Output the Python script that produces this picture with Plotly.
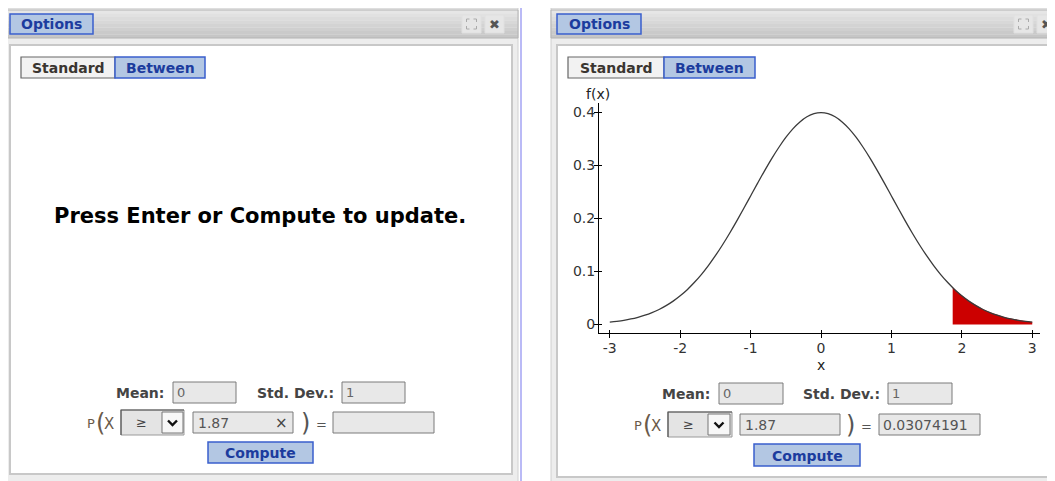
import plotly.graph_objects as go

# ---------------- data ----------------
x_grid = [-3.0, -2.9, -2.8, -2.7, -2.6, -2.5, -2.4, -2.3, -2.2, -2.1,
          -2.0, -1.9, -1.8, -1.7, -1.6, -1.5, -1.4, -1.3, -1.2, -1.1,
          -1.0, -0.9, -0.8, -0.7, -0.6, -0.5, -0.4, -0.3, -0.2, -0.1,
          0.0, 0.1, 0.2, 0.3, 0.4, 0.5, 0.6, 0.7, 0.8, 0.9,
          1.0, 1.1, 1.2, 1.3, 1.4, 1.5, 1.6, 1.7, 1.8, 1.9,
          2.0, 2.1, 2.2, 2.3, 2.4, 2.5, 2.6, 2.7, 2.8, 2.9, 3.0]
density = [0.0044, 0.0060, 0.0079, 0.0104, 0.0136, 0.0175, 0.0224, 0.0283, 0.0355, 0.0440,
           0.0540, 0.0656, 0.0790, 0.0940, 0.1109, 0.1295, 0.1497, 0.1714, 0.1942, 0.2179,
           0.2420, 0.2661, 0.2897, 0.3123, 0.3332, 0.3521, 0.3683, 0.3814, 0.3910, 0.3970,
           0.3989, 0.3970, 0.3910, 0.3814, 0.3683, 0.3521, 0.3332, 0.3123, 0.2897, 0.2661,
           0.2420, 0.2179, 0.1942, 0.1714, 0.1497, 0.1295, 0.1109, 0.0940, 0.0790, 0.0656,
           0.0540, 0.0440, 0.0355, 0.0283, 0.0224, 0.0175, 0.0136, 0.0104, 0.0079, 0.0060, 0.0044]
tail_x = [1.87, 1.9, 2.0, 2.1, 2.2, 2.3, 2.4, 2.5, 2.6, 2.7, 2.8, 2.9, 3.0]
tail_y = [0.0694, 0.0656, 0.0540, 0.0440, 0.0355, 0.0283, 0.0224, 0.0175, 0.0136,
          0.0104, 0.0079, 0.0060, 0.0044]
x_ticks = [-3, -2, -1, 0, 1, 2, 3]
x_tick_labels = ["-3", "-2", "-1", "0", "1", "2", "3"]
y_ticks = [0, 0.1, 0.2, 0.3, 0.4]
y_tick_labels = ["0", "0.1", "0.2", "0.3", "0.4"]
mean_value = "0"
sd_value = "1"
operator = "≥"
threshold = "1.87"
result_value = "0.03074191"

# ---------------- helpers ----------------
# the page body has an 8px margin, so the figure starts at window pixel (8, 8)
OFF = 8
W, H = 1055 - OFF, 481 - OFF
FONT = "DejaVu Sans"
shapes = []
annotations = []


def px(x):
    return (x - OFF) / W


def py(y):
    return 1 - (y - OFF) / H


def rect(x0, y0, x1, y1, fill, line=None, lw=1, layer="below"):
    shapes.append(dict(type="rect", xref="paper", yref="paper",
                       x0=px(x0), x1=px(x1), y0=py(y1), y1=py(y0),
                       fillcolor=fill,
                       line=dict(color=line if line else "rgba(0,0,0,0)",
                                 width=lw if line else 0),
                       layer=layer))


def path(points, color, lw=1.5):
    d = "M " + " L ".join(f"{px(a):.5f},{py(b):.5f}" for a, b in points)
    shapes.append(dict(type="path", xref="paper", yref="paper", path=d,
                       line=dict(color=color, width=lw), layer="above"))


def text(x, y, s, size=14, color="#333", bold=False, xanchor="center",
         family=FONT):
    annotations.append(dict(x=px(x), y=py(y), xref="paper", yref="paper",
                            text=(f"<b>{s}</b>" if bold else s),
                            showarrow=False, xanchor=xanchor, yanchor="middle",
                            font=dict(family=family, size=size, color=color)))


BTN_FILL = "#b3c7e3"
BTN_LINE = "#3a5fcd"
BTN_TEXT = "#1c3c9e"
BOX_FILL = "#e8e8e8"
BOX_LINE = "#7a7a7a"
LBL = "#444444"
PX_COL = "#6a5a4a"


def header(x0, x1):
    top, bot = 10, 38
    n = 8
    c0, c1 = (230, 230, 230), (198, 198, 198)
    for i in range(n):
        t = i / (n - 1)
        c = tuple(int(c0[k] + (c1[k] - c0[k]) * t) for k in range(3))
        ya = top + (bot - top) * i / n
        yb = top + (bot - top) * (i + 1) / n
        rect(x0, ya, x1, yb, "rgb(%d,%d,%d)" % c)
    rect(x0, top, x1, bot, "rgba(0,0,0,0)", line="#b4b4b4", lw=1)


def window(x0, x1, body_x0, body_x1, body_y1, icons_x):
    rect(x0, 8, x1, 485, "#ededed", line="#d0d0d0", lw=1)
    header(x0, x1)
    rect(body_x0, 45, body_x1, body_y1, "#ffffff", line="#c8c8c8", lw=2)
    # icons
    ex = icons_x
    rect(ex, 15, ex + 19, 33, "#e6e6e6", line="#e0e0e0", lw=1)
    cx, cy = ex + 9.5, 24
    for sx in (-1, 1):
        for sy in (-1, 1):
            path([(cx + sx * 2, cy + sy * 5), (cx + sx * 5, cy + sy * 5),
                  (cx + sx * 5, cy + sy * 2)], "#aaaaaa", 1)
    rect(ex + 23, 15, ex + 42, 33, "#e6e6e6", line="#e0e0e0", lw=1)
    text(ex + 32.5, 24.5, "✖", size=13, color="#555555")


def ui_block(opts, std_btn, btw_btn, mean_lbl_r, mean_box, sd_lbl_r,
             sd_box, p_x, sel_box, drop_box, inp_box, has_x, close_paren_x,
             eq_x, res_box, res_text, comp_box):
    # Options button
    rect(*opts, BTN_FILL, line=BTN_LINE, lw=1.5)
    text((opts[0] + opts[2]) / 2, 24.5, "Options", 14, BTN_TEXT, True)
    # Standard / Between
    rect(*std_btn, "#f2f2f2", line="#666666", lw=1.2)
    text((std_btn[0] + std_btn[2]) / 2, 68, "Standard", 14, "#3a3530", True)
    rect(*btw_btn, BTN_FILL, line=BTN_LINE, lw=1.5)
    text((btw_btn[0] + btw_btn[2]) / 2, 68, "Between", 14, BTN_TEXT, True)
    # Mean / Std
    ym = (mean_box[1] + mean_box[3]) / 2
    text(mean_lbl_r, ym + 0.5, "Mean:", 14, LBL, True, "right")
    rect(*mean_box, BOX_FILL, line=BOX_LINE, lw=1)
    text(mean_box[0] + 2, ym, mean_value, 13, "#666666", False, "left")
    text(sd_lbl_r, ym + 0.5, "Std. Dev.:", 14, LBL, True, "right")
    rect(*sd_box, BOX_FILL, line=BOX_LINE, lw=1)
    text(sd_box[0] + 2, ym, sd_value, 13, "#666666", False, "left")
    # P( X
    yr = (inp_box[1] + inp_box[3]) / 2
    text(p_x, yr + 1, "P", 13, PX_COL, False, "left")
    text(p_x + 9, yr, "(", 24, PX_COL, False, "left")
    text(p_x + 17, yr + 1, "X", 15, PX_COL, False, "left")
    # select
    rect(*sel_box, "#e4e4e4", line="#9a9a9a", lw=1)
    path([(sel_box[0], sel_box[3]), (sel_box[0], sel_box[1]),
          (sel_box[2], sel_box[1])], "#555555", 1.2)
    text((sel_box[0] + drop_box[0]) / 2, yr, operator, 13, "#444444")
    rect(*drop_box, "#f7f7f7", line="#777777", lw=1)
    cx = (drop_box[0] + drop_box[2]) / 2
    cy = (drop_box[1] + drop_box[3]) / 2
    path([(cx - 4.5, cy - 2), (cx, cy + 2.5), (cx + 4.5, cy - 2)], "#111111", 2.4)
    # input
    rect(*inp_box, BOX_FILL, line=BOX_LINE, lw=1)
    text(inp_box[0] + 3, yr, threshold, 14, "#555555", False, "left")
    if has_x:
        text(inp_box[2] - 12, yr, "×", 15, "#444444")
    text(close_paren_x, yr, ")", 24, "#555555")
    text(eq_x, yr + 2, "=", 13, "#555555")
    rect(*res_box, BOX_FILL, line=BOX_LINE, lw=1)
    if res_text:
        text(res_box[0] + 2, yr, res_text, 14, "#555555", False, "left")
    # compute
    rect(*comp_box, BTN_FILL, line=BTN_LINE, lw=1.5)
    text((comp_box[0] + comp_box[2]) / 2, (comp_box[1] + comp_box[3]) / 2 + 0.5,
         "Compute", 14, BTN_TEXT, True)


# ---------------- page ----------------
# left window
window(5, 518, 10, 512, 474, 462)
shapes.append(dict(type="line", xref="paper", yref="paper", x0=px(521), x1=px(521),
                   y0=0, y1=1, line=dict(color="#8c8cf0", width=1.2), layer="below"))
# right window
window(551, 1075, 557, 1049, 477, 1014)

ui_block(opts=(10, 14, 93, 34), std_btn=(21, 57, 115, 78), btw_btn=(115, 57, 205, 78),
         mean_lbl_r=166, mean_box=(173, 382, 236, 403), sd_lbl_r=336,
         sd_box=(342, 382, 405, 403), p_x=85, sel_box=(121, 410, 184, 435),
         drop_box=(162, 412, 183, 433), inp_box=(193, 412, 293, 433), has_x=True,
         close_paren_x=305, eq_x=321, res_box=(333, 412, 434, 433), res_text="",
         comp_box=(208, 442, 313, 463))

ui_block(opts=(557, 14, 641, 34), std_btn=(568, 57, 664, 78), btw_btn=(664, 57, 755, 78),
         mean_lbl_r=712, mean_box=(719, 383, 783, 404), sd_lbl_r=882,
         sd_box=(888, 383, 952, 404), p_x=632, sel_box=(668, 412, 732, 437),
         drop_box=(708, 414, 730, 435), inp_box=(740, 414, 840, 435), has_x=False,
         close_paren_x=851, eq_x=866, res_box=(879, 414, 980, 435), res_text=result_value,
         comp_box=(754, 444, 860, 466))

text(260, 216, "Press Enter or Compute to update.", 21, "#000000", True)

# chart labels
text(598, 94, "f(x)", 14, "#222222")
text(821, 365, "x", 14, "#222222")

# ---------------- chart ----------------
fig = go.Figure()
fig.add_trace(go.Scatter(x=tail_x, y=tail_y, mode="lines", fill="tozeroy",
                         fillcolor="#cc0000", line=dict(color="#cc0000", width=0.5),
                         hoverinfo="skip", showlegend=False))
fig.add_trace(go.Scatter(x=x_grid, y=density, mode="lines", line_shape="spline",
                         line=dict(color="#3a3a3a", width=1.3),
                         showlegend=False))
# invisible trace on overlay axes (for the inner half of the crossing ticks)
fig.add_trace(go.Scatter(x=[0], y=[0], xaxis="x2", yaxis="y2", mode="markers",
                         marker=dict(opacity=0), hoverinfo="skip", showlegend=False))

x_dom = [px(599), px(1040)]
y_dom = [py(333), py(103)]
x_rng = [-3.153, 3.11]
y_rng = [-0.016, 0.417]
tickfont = dict(family=FONT, size=14, color="#333333")

fig.update_layout(
    width=W, height=H, margin=dict(l=0, r=0, t=0, b=0),
    paper_bgcolor="#ffffff", plot_bgcolor="rgba(0,0,0,0)",
    shapes=shapes, annotations=annotations, showlegend=False,
    xaxis=dict(domain=x_dom, range=x_rng, tickvals=x_ticks, ticktext=x_tick_labels,
               showgrid=False, zeroline=False, showline=True, linecolor="#000",
               linewidth=1, ticks="outside", ticklen=4, tickcolor="#000",
               ticklabelstandoff=-2,
               tickfont=tickfont, fixedrange=True, anchor="y"),
    yaxis=dict(domain=y_dom, range=y_rng, tickvals=y_ticks, ticktext=y_tick_labels,
               showgrid=False, zeroline=False, showline=True, linecolor="#000",
               linewidth=1, ticks="outside", ticklen=4, tickcolor="#000",
               ticklabelstandoff=-4,
               tickfont=tickfont, fixedrange=True, anchor="x"),
    xaxis2=dict(domain=x_dom, range=x_rng, tickvals=x_ticks, overlaying="x",
                anchor="y2", side="bottom", showticklabels=False, showgrid=False,
                zeroline=False, showline=False, ticks="inside", ticklen=3,
                tickcolor="#000", fixedrange=True),
    yaxis2=dict(domain=y_dom, range=y_rng, tickvals=y_ticks, overlaying="y",
                anchor="x2", side="left", showticklabels=False, showgrid=False,
                zeroline=False, showline=False, ticks="inside", ticklen=3,
                tickcolor="#000", fixedrange=True),
)

fig.write_html("out.html")
